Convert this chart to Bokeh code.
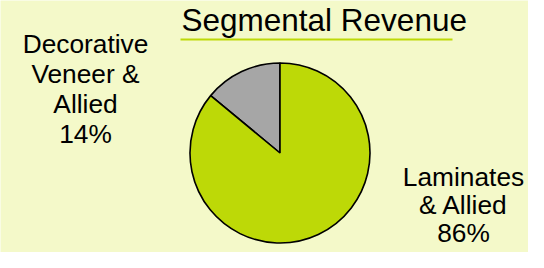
import math
from bokeh.plotting import figure
from bokeh.models import Range1d, ColumnDataSource
from bokeh.core.properties import value
from bokeh.embed import file_html
from bokeh.resources import INLINE

# ---- data ----
title_text = "Segmental Revenue"
categories = ["Decorative\nVeneer &\nAllied", "Laminates\n& Allied"]
shares = [14, 86]  # percent
colors = ["#A6A6A6", "#BDD907"]

BG = "#F4F9C9"
W, H = 528, 252
# coordinates in reference pixel space, y flipped so up is positive
p = figure(width=W, height=H, output_backend="svg", toolbar_location=None,
           x_range=Range1d(0, W), y_range=Range1d(268 - H, 268),
           x_axis_type=None, y_axis_type=None, min_border=0,
           background_fill_color=BG, border_fill_color=BG, outline_line_color=None)
p.grid.visible = False

def Y(ref_y):
    return 268 - ref_y

# pie
cx, cy, r = 279.5, Y(152.5), 90
total = sum(shares)
starts, ends = [], []
acc = 0.0
for s in shares:
    starts.append(math.pi / 2 + acc / total * 2 * math.pi)
    acc += s
    ends.append(math.pi / 2 + acc / total * 2 * math.pi)
src = ColumnDataSource(dict(start=starts, end=ends, color=colors))
p.wedge(x=cx, y=cy, radius=r, start_angle="start", end_angle="end",
        fill_color="color", line_color="black", line_width=1.6, source=src)

# labels
label_pos = [(85, 43, 30), (463, 176, 28)]  # centre x, first baseline, line step (ref px)
FONT = value("Liberation Sans")
for cat, share, (lx, by, step) in zip(categories, shares, label_pos):
    lines = cat.split("\n") + [f"{share}%"]
    xs = [lx] * len(lines)
    ys = [Y(by + i * step) for i in range(len(lines))]
    p.text(x=xs, y=ys, text=lines, text_font=FONT, text_font_size="26.3px",
           text_align="center", text_baseline="alphabetic", text_color="#000000")

# title and underline
p.text(x=[181], y=[Y(19)], text=[title_text], text_font=FONT, text_font_size="31.5px",
       text_align="left", text_baseline="alphabetic", text_color="#000000")
p.line(x=[180, 452], y=[Y(39), Y(39)], line_color="#BDD907", line_width=2)

open("out.html", "w").write(file_html(p, INLINE))
